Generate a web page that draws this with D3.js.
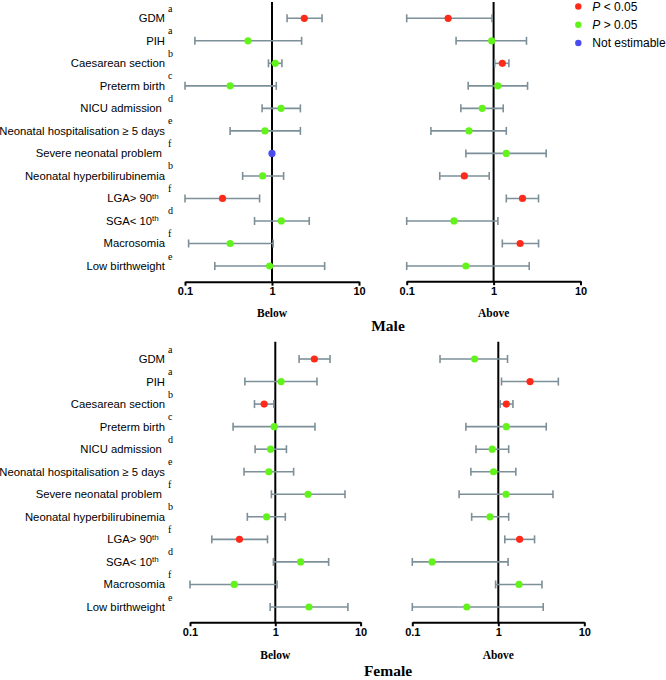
<!DOCTYPE html>
<html>
<head>
<meta charset="utf-8">
<script src="https://cdn.jsdelivr.net/npm/d3@7"></script>
<style>
  html, body { margin: 0; padding: 0; background: #fff; }
  svg { display: block; }
</style>
</head>
<body>
<svg id="chart" width="666" height="680"></svg>
<script>
// ---------- data ----------
const categories = [
  "GDM", "PIH", "Caesarean section", "Preterm birth", "NICU admission\u00A0",
  "Neonatal hospitalisation \u2265 5 days", "Severe neonatal problem\u00A0",
  "Neonatal hyperbilirubinemia", "LGA> 90", "SGA< 10", "Macrosomia", "Low birthweight"
];
const thSuffix = [false, false, false, false, false, false, false, false, true, true, false, false];
const superscripts = ["a", "a", "b", "c", "d", "e", "f", "b", "f", "d", "f", "e"];
const tickValues = [0.1, 1, 10];
const tickLabels = ["0.1", "1", "10"];

// Male, below
const maleBelowEst = [2.35, 0.53, 1.09, 0.33, 1.27, 0.83, 1.0, 0.78, 0.27, 1.28, 0.33, 0.94];
const maleBelowLo  = [1.49, 0.13, 0.91, 0.10, 0.77, 0.33, null, 0.46, 0.10, 0.63, 0.11, 0.22];
const maleBelowHi  = [3.76, 2.19, 1.30, 1.12, 2.12, 2.12, null, 1.36, 0.72, 2.68, 1.03, 4.03];
const maleBelowSig = ["sig", "ns", "ns", "ns", "ns", "ns", "na", "ns", "sig", "ns", "ns", "ns"];

// Male, above
const maleAboveEst = [0.30, 0.95, 1.26, 1.12, 0.74, 0.52, 1.40, 0.46, 2.15, 0.35, 2.02, 0.48];
const maleAboveLo  = [0.10, 0.37, 1.03, 0.51, 0.42, 0.19, 0.48, 0.24, 1.40, 0.10, 1.26, 0.10];
const maleAboveHi  = [0.96, 2.39, 1.50, 2.46, 1.29, 1.40, 4.03, 0.89, 3.29, 1.12, 3.29, 2.57];
const maleAboveSig = ["sig", "ns", "sig", "ns", "ns", "ns", "ns", "sig", "sig", "ns", "sig", "ns"];

// Female, below
const femaleBelowEst = [2.87, 1.17, 0.74, 0.97, 0.88, 0.84, 2.42, 0.79, 0.38, 1.98, 0.33, 2.48];
const femaleBelowLo  = [1.90, 0.44, 0.57, 0.32, 0.58, 0.43, 0.90, 0.47, 0.18, 0.95, 0.10, 0.87];
const femaleBelowHi  = [4.38, 3.08, 0.96, 2.92, 1.35, 1.64, 6.56, 1.31, 0.81, 4.22, 1.05, 7.10];
const femaleBelowSig = ["sig", "ns", "sig", "ns", "ns", "ns", "ns", "ns", "sig", "ns", "ns", "ns"];

// Female, above
const femaleAboveEst = [0.53, 2.34, 1.24, 1.24, 0.85, 0.88, 1.23, 0.80, 1.77, 0.17, 1.74, 0.43];
const femaleAboveLo  = [0.21, 1.09, 1.05, 0.42, 0.55, 0.48, 0.35, 0.49, 1.19, 0.10, 0.93, 0.10];
const femaleAboveHi  = [1.28, 4.99, 1.48, 3.61, 1.32, 1.60, 4.32, 1.32, 2.64, 1.30, 3.22, 3.33];
const femaleAboveSig = ["ns", "sig", "sig", "ns", "ns", "ns", "ns", "ns", "sig", "ns", "ns", "ns"];

const legendKeys = ["sig", "ns", "na"];
const groupTitles = ["Male", "Female"];
const panelTitles = ["Below", "Above"];

// ---------- styles ----------
const colors = { sig: "#ff2a1a", ns: "#62f41a", na: "#4b4bf2" };
const barColor = "#7d8f98";
const sansFont = "'Liberation Sans', Arial, sans-serif";
const serifFont = "'Liberation Serif', 'Times New Roman', serif";

const svg = d3.select("#chart");

const panels = [
  { est: maleBelowEst, lo: maleBelowLo, hi: maleBelowHi, sig: maleBelowSig,
    x: [185, 359], y: [18.3, 266], axisY: 281.7, top: 2, title: panelTitles[0], titleY: 313.3, labels: true },
  { est: maleAboveEst, lo: maleAboveLo, hi: maleAboveHi, sig: maleAboveSig,
    x: [406.7, 580.5], y: [18.3, 266], axisY: 281.2, top: 2, title: panelTitles[1], titleY: 313.3, labels: false },
  { est: femaleBelowEst, lo: femaleBelowLo, hi: femaleBelowHi, sig: femaleBelowSig,
    x: [190, 360.6], y: [359, 607], axisY: 622.3, top: 341.7, title: panelTitles[0], titleY: 654.5, labels: true },
  { est: femaleAboveEst, lo: femaleAboveLo, hi: femaleAboveHi, sig: femaleAboveSig,
    x: [412.3, 584.3], y: [359, 607], axisY: 622.3, top: 341.7, title: panelTitles[1], titleY: 655, labels: false }
];

panels.forEach(p => {
  const x = d3.scaleLog().domain([0.1, 10]).range(p.x);
  const y = d3.scalePoint().domain(categories).range(p.y);
  const g = svg.append("g");

  // reference line at 1
  g.append("line")
    .attr("x1", x(1)).attr("x2", x(1))
    .attr("y1", p.top).attr("y2", p.axisY)
    .attr("stroke", "#000").attr("stroke-width", 2);

  // axis
  const axis = d3.axisBottom(x)
    .tickValues(tickValues)
    .tickFormat((d, i) => tickLabels[i])
    .tickSize(4).tickSizeOuter(0).tickPadding(2);
  const ag = g.append("g").attr("transform", `translate(0,${p.axisY})`).call(axis);
  ag.select(".domain").attr("stroke", "#000").attr("stroke-width", 2);
  ag.selectAll(".tick line").attr("stroke", "#000").attr("stroke-width", 2);
  ag.selectAll(".tick text")
    .attr("fill", "#000").attr("font-family", sansFont)
    .attr("font-size", 11).attr("font-weight", "bold");

  // panel title
  g.append("text")
    .attr("x", x(1)).attr("y", p.titleY).attr("dy", "0.35em")
    .attr("text-anchor", "middle")
    .attr("font-family", serifFont).attr("font-weight", "bold").attr("font-size", 11.5)
    .text(p.title);

  // rows
  const rows = categories.map((c, i) => ({
    c, est: p.est[i], lo: p.lo[i], hi: p.hi[i], sig: p.sig[i]
  }));

  const bars = g.selectAll(".ci").data(rows.filter(r => r.lo != null)).join("g")
    .attr("stroke", barColor).attr("stroke-width", 1.6);
  bars.append("line")
    .attr("x1", r => x(r.lo)).attr("x2", r => x(r.hi))
    .attr("y1", r => y(r.c)).attr("y2", r => y(r.c));
  bars.append("line")
    .attr("x1", r => x(r.lo)).attr("x2", r => x(r.lo))
    .attr("y1", r => y(r.c) - 4).attr("y2", r => y(r.c) + 4);
  bars.append("line")
    .attr("x1", r => x(r.hi)).attr("x2", r => x(r.hi))
    .attr("y1", r => y(r.c) - 4).attr("y2", r => y(r.c) + 4);

  g.selectAll(".pt").data(rows).join("circle")
    .attr("cx", r => x(r.est)).attr("cy", r => y(r.c))
    .attr("r", 3.6).attr("fill", r => colors[r.sig]);

  // category labels
  if (p.labels) {
    const lg = g.append("g");
    categories.forEach((c, i) => {
      const t = lg.append("text")
        .attr("x", 165).attr("y", y(c)).attr("dy", "0.35em")
        .attr("text-anchor", "end")
        .attr("font-family", sansFont).attr("font-size", 11.3).attr("fill", "#000");
      t.append("tspan").text(c);
      if (thSuffix[i]) {
        t.append("tspan").attr("dy", "-0.45em").attr("font-size", 8).text("th");
        t.append("tspan").attr("dy", "0.45em").text("\u00A0\u00A0");
      }
      lg.append("text")
        .attr("x", 168).attr("y", y(c) - 10).attr("dy", "0.35em")
        .attr("font-family", serifFont).attr("font-size", 10).attr("fill", "#000")
        .text(superscripts[i]);
    });
  }
});

// group titles
svg.append("text").attr("x", 388).attr("y", 326).attr("dy", "0.35em")
  .attr("text-anchor", "middle").attr("font-family", serifFont)
  .attr("font-weight", "bold").attr("font-size", 15.5).text(groupTitles[0]);
svg.append("text").attr("x", 388).attr("y", 671).attr("dy", "0.35em")
  .attr("text-anchor", "middle").attr("font-family", serifFont)
  .attr("font-weight", "bold").attr("font-size", 15.5).text(groupTitles[1]);

// legend
const legendY = d3.scalePoint().domain(legendKeys).range([6.5, 43]);
const leg = svg.append("g");
legendKeys.forEach(k => {
  leg.append("circle").attr("cx", 578.3).attr("cy", legendY(k)).attr("r", 3.2).attr("fill", colors[k]);
  const t = leg.append("text").attr("x", 592.3).attr("y", legendY(k)).attr("dy", "0.35em")
    .attr("font-family", sansFont).attr("font-size", 12).attr("fill", "#000");
  if (k === "sig") {
    t.append("tspan").attr("font-style", "italic").text("P");
    t.append("tspan").text(" < 0.05");
  } else if (k === "ns") {
    t.append("tspan").attr("font-style", "italic").text("P");
    t.append("tspan").text(" > 0.05");
  } else {
    t.text("Not estimable");
  }
});
</script>
</body>
</html>
